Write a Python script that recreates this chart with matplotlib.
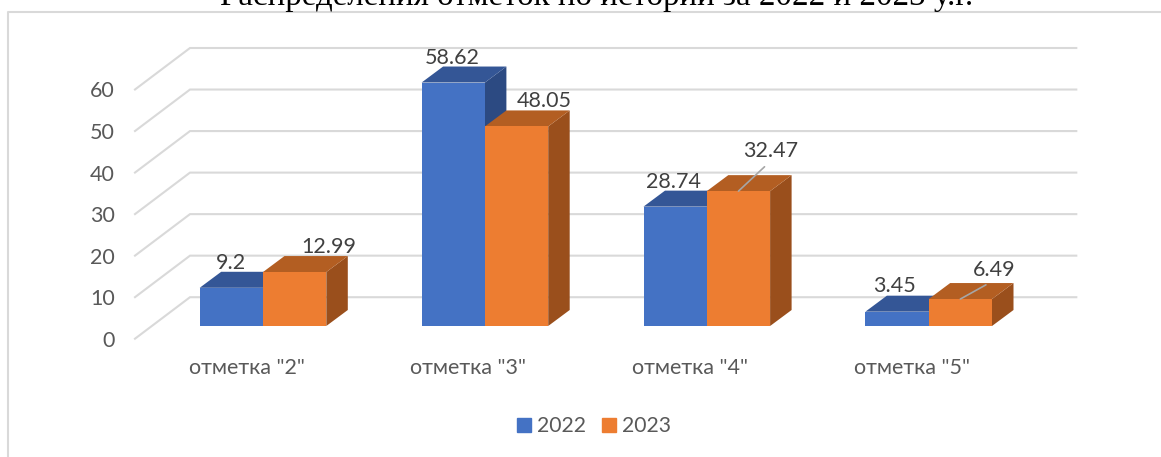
import matplotlib
matplotlib.use("Agg")
import matplotlib.pyplot as plt
from matplotlib.lines import Line2D
from matplotlib.patches import Patch

categories = ['отметка "2"', 'отметка "3"', 'отметка "4"', 'отметка "5"']
years = ['2022', '2023']
values_2022 = [9.2, 58.62, 28.74, 3.45]
values_2023 = [12.99, 48.05, 32.47, 6.49]
y_ticks = [0, 10, 20, 30, 40, 50, 60]
title = 'Распределения отметок по истории за 2022 и 2023 у.г.'

# label offsets from the bar's front-top centre, in pixels
offsets_2022 = [(-0.2, 25), (-0.7, 25), (-1.3, 25), (-2.5, 26)]
offsets_2023 = [(34.4, 25), (27.3, 25), (32.1, 40), (34.2, 29)]
leaders_2023 = [False, False, True, True]

W, H = 1161, 457
FONT = ['Lato', 'Open Sans', 'DejaVu Sans']
plt.rcParams['font.family'] = FONT
FS = 15.5

fig = plt.figure(figsize=(W / 100, H / 100), dpi=100)
# axes rectangle = front plane of the pseudo-3D floor
L, R, B, T = 135, 1076.3, 338.7, 89.5
ax = fig.add_axes([L / W, 1 - B / H, (R - L) / W, (B - T) / H])
ax.patch.set_alpha(0)
PX_PER_CAT = 221.9
PX_PER_VAL = (B - T) / 60
X0 = 263
ax.set_xlim((L - X0) / PX_PER_CAT, (R - X0) / PX_PER_CAT)
ax.set_ylim(0, 60)
for s in ax.spines.values():
    s.set_visible(False)

px = lambda p: p / PX_PER_CAT
py = lambda p: p / PX_PER_VAL

GRID = '#D9D9D9'
wall_dx, wall_dy = px(55), py(41.5)
x_left, x_right = ax.get_xlim()
for v in y_ticks:
    ax.plot([x_left, x_left + wall_dx, x_right], [v, v + wall_dy, v + wall_dy],
            color=GRID, lw=1.5, clip_on=False, zorder=1, solid_joinstyle='miter')

base = py(B - 326)
bw = px(63.3)
dx, dy = px(21.5), py(16)
series = [
    (values_2022, -bw / 2, '#4472C4', '#345696', '#2C4A82', offsets_2022, [False] * 4),
    (values_2023, bw / 2, '#ED7D31', '#B35E22', '#9A4F1C', offsets_2023, leaders_2023),
]
z = 2
for vals, off, front, top, side, offs, leads in series:
    for i, v in enumerate(vals):
        xc = i + off
        xl, xr = xc - bw / 2, xc + bw / 2
        yt = base + v
        ax.fill([xr, xr + dx, xr + dx, xr], [base, base + dy, yt + dy, yt],
                color=side, lw=0, clip_on=False, zorder=z)
        ax.fill([xl, xl + dx, xr + dx, xr], [yt, yt + dy, yt + dy, yt],
                color=top, lw=0, clip_on=False, zorder=z)
        ax.bar(xc, v, width=bw, bottom=base, color=front, lw=0, clip_on=False, zorder=z + 0.5)
    z += 1

for vals, off, front, top, side, offs, leads in series:
    for i, v in enumerate(vals):
        kw = {}
        if leads[i]:
            kw['arrowprops'] = dict(arrowstyle='-', color='#A6A6A6', lw=1.2, shrinkA=3, shrinkB=0,
                                    relpos=(0.5, 0))
        ax.annotate(f'{v:g}', xy=(i + off, base + v),
                    xytext=(offs[i][0] * 0.72, offs[i][1] * 0.72), textcoords='offset points',
                    ha='center', va='center', fontsize=FS, color='#404040', zorder=10,
                    annotation_clip=False, **kw)

ax.set_yticks(y_ticks)
ax.set_xticks([i - px(16.5) for i in range(len(categories))])
ax.set_xticklabels(categories)
ax.tick_params(axis='y', length=0, pad=14.5, labelsize=FS, labelcolor='#595959')
ax.tick_params(axis='x', length=0, pad=14, labelsize=FS, labelcolor='#595959')

fig.legend(handles=[Patch(color='#4472C4', label=years[0]), Patch(color='#ED7D31', label=years[1])],
           loc='center', bbox_to_anchor=(594 / W, 1 - 426 / H), ncol=2, frameon=False,
           fontsize=15.2, labelcolor='#595959', handlelength=0.65, handleheight=0.65,
           handletextpad=0.28, columnspacing=0.8, borderpad=0, borderaxespad=0)

fig.add_artist(Line2D([8 / W, 8 / W, 1], [0, 1 - 12 / H, 1 - 12 / H], color=GRID, lw=1.5))
fig.text(597 / W, 1 - 5 / H, title, family=['Liberation Serif'], fontsize=23.8, color='black',
         ha='center', va='baseline')

fig.savefig('out.png', dpi=100)
